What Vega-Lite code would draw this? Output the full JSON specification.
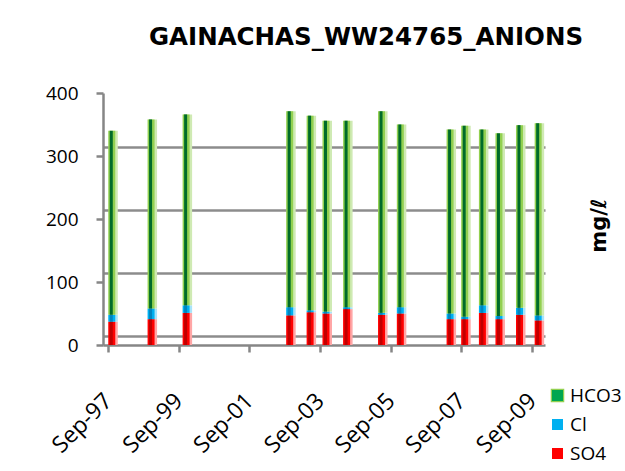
{
  "$schema": "https://vega.github.io/schema/vega-lite/v6.json",
  "autosize": {"type": "none"},
  "width": 442,
  "height": 252,
  "padding": {"left": 103, "top": 93, "right": 80, "bottom": 126},
  "background": "white",
  "config": {"view": {"stroke": null}, "font": "Open Sans"},
  "title": {"text": "GAINACHAS_WW24765_ANIONS", "font": "DejaVu Sans", "fontSize": 24.5, "fontWeight": "bold", "color": "black", "anchor": "middle", "dx": 42, "offset": 34},
  "data": {"values": [
    {"date": "1997-10-10", "ion": "SO4", "value": 37}, {"date": "1997-10-10", "ion": "Cl", "value": 11}, {"date": "1997-10-10", "ion": "HCO3", "value": 292},
    {"date": "1998-11-20", "ion": "SO4", "value": 41}, {"date": "1998-11-20", "ion": "Cl", "value": 17}, {"date": "1998-11-20", "ion": "HCO3", "value": 300},
    {"date": "1999-11-17", "ion": "SO4", "value": 51}, {"date": "1999-11-17", "ion": "Cl", "value": 12}, {"date": "1999-11-17", "ion": "HCO3", "value": 303},
    {"date": "2002-10-22", "ion": "SO4", "value": 47}, {"date": "2002-10-22", "ion": "Cl", "value": 13}, {"date": "2002-10-22", "ion": "HCO3", "value": 311},
    {"date": "2003-05-21", "ion": "SO4", "value": 52}, {"date": "2003-05-21", "ion": "Cl", "value": 3}, {"date": "2003-05-21", "ion": "HCO3", "value": 309},
    {"date": "2003-11-01", "ion": "SO4", "value": 50}, {"date": "2003-11-01", "ion": "Cl", "value": 3}, {"date": "2003-11-01", "ion": "HCO3", "value": 303},
    {"date": "2004-06-01", "ion": "SO4", "value": 57}, {"date": "2004-06-01", "ion": "Cl", "value": 3}, {"date": "2004-06-01", "ion": "HCO3", "value": 296},
    {"date": "2005-05-28", "ion": "SO4", "value": 48}, {"date": "2005-05-28", "ion": "Cl", "value": 3}, {"date": "2005-05-28", "ion": "HCO3", "value": 320},
    {"date": "2005-12-08", "ion": "SO4", "value": 50}, {"date": "2005-12-08", "ion": "Cl", "value": 10}, {"date": "2005-12-08", "ion": "HCO3", "value": 290},
    {"date": "2007-05-06", "ion": "SO4", "value": 41}, {"date": "2007-05-06", "ion": "Cl", "value": 9}, {"date": "2007-05-06", "ion": "HCO3", "value": 292},
    {"date": "2007-10-04", "ion": "SO4", "value": 41}, {"date": "2007-10-04", "ion": "Cl", "value": 4}, {"date": "2007-10-04", "ion": "HCO3", "value": 303},
    {"date": "2008-04-04", "ion": "SO4", "value": 51}, {"date": "2008-04-04", "ion": "Cl", "value": 12}, {"date": "2008-04-04", "ion": "HCO3", "value": 279},
    {"date": "2008-09-22", "ion": "SO4", "value": 41}, {"date": "2008-09-22", "ion": "Cl", "value": 5}, {"date": "2008-09-22", "ion": "HCO3", "value": 290},
    {"date": "2009-04-22", "ion": "SO4", "value": 48}, {"date": "2009-04-22", "ion": "Cl", "value": 11}, {"date": "2009-04-22", "ion": "HCO3", "value": 290},
    {"date": "2009-11-01", "ion": "SO4", "value": 39}, {"date": "2009-11-01", "ion": "Cl", "value": 8}, {"date": "2009-11-01", "ion": "HCO3", "value": 305}
  ]},
  "transform": [{"calculate": "indexof(['SO4', 'Cl', 'HCO3'], datum.ion)", "as": "stackOrder"}],
  "encoding": {
    "x": {
      "field": "date", "type": "temporal",
      "scale": {"domain": [{"year": 1997, "month": 9, "date": 1}, {"year": 2009, "month": 11, "date": 20}]},
      "axis": {
        "values": [{"year": 1997, "month": 9, "date": 1}, {"year": 1999, "month": 9, "date": 1}, {"year": 2001, "month": 9, "date": 1}, {"year": 2003, "month": 9, "date": 1}, {"year": 2005, "month": 9, "date": 1}, {"year": 2007, "month": 9, "date": 1}, {"year": 2009, "month": 9, "date": 1}],
        "format": "%b-%y", "labelAngle": -45, "labelAlign": "right", "labelBaseline": "middle",
        "labelFont": "Open Sans", "labelFontSize": 23, "labelColor": "black", "labelPadding": 45,
        "tickSize": 7, "tickColor": "#868686", "tickWidth": 2.5, "domainColor": "#868686", "domainWidth": 2.5,
        "grid": false, "title": null, "labelOverlap": false, "labelBound": false, "labelFlush": false
      }
    }
  },
  "layer": [
    {
      "mark": {"type": "point", "opacity": 0},
      "encoding": {
        "y": {"field": "value", "type": "quantitative", "scale": {"domain": [-15, 385], "nice": false, "zero": false},
          "axis": {"orient": "right", "grid": true, "gridColor": "#8c8c8c", "gridWidth": 2.5, "values": [0, 100, 200, 300, 400],
            "labels": false, "ticks": false, "domain": false, "title": "mg/ℓ", "titleFont": "DejaVu Sans", "titleFontSize": 21,
            "titleFontWeight": "bold", "titleAngle": 270, "titleX": 54, "titleY": 132, "titleAlign": "center", "titleBaseline": "middle", "titleColor": "black"}}
      }
    },
    {
      "mark": {"type": "bar", "size": 9, "xOffset": 1.5},
      "encoding": {
        "y": {"field": "value", "type": "quantitative", "scale": {"domain": [0, 400], "nice": false}, "axis": null},
        "order": {"field": "stackOrder", "type": "quantitative"},
        "color": {"field": "ion", "type": "nominal", "sort": ["HCO3", "Cl", "SO4"], "scale": {"domain": ["HCO3", "Cl", "SO4"], "range": ["#cfeab3", "#a8e4fa", "#ffa6a6"]}, "legend": null}
      }
    },
    {
      "mark": {"type": "bar", "size": 7},
      "encoding": {
        "y": {"field": "value", "type": "quantitative", "scale": {"domain": [0, 400], "nice": false},
          "axis": {"orient": "left", "grid": false, "values": [0, 100, 200, 300, 400], "domainColor": "#868686", "domainWidth": 2.5,
            "tickColor": "#868686", "tickWidth": 2.5, "tickSize": 7, "labelFont": "Open Sans", "labelFontSize": 19, "labelColor": "black", "labelPadding": 18, "title": null}},
        "order": {"field": "stackOrder", "type": "quantitative"},
        "color": {"field": "ion", "type": "nominal", "sort": ["HCO3", "Cl", "SO4"], "scale": {"domain": ["HCO3", "Cl", "SO4"], "range": ["#92D050", "#00B0F0", "#FF0000"]}, "legend": null}
      }
    },
    {
      "mark": {"type": "bar", "size": 3, "xOffset": -0.5},
      "encoding": {
        "y": {"field": "value", "type": "quantitative", "scale": {"domain": [0, 400], "nice": false}, "axis": null},
        "order": {"field": "stackOrder", "type": "quantitative"},
        "color": {"field": "ion", "type": "nominal", "sort": ["HCO3", "Cl", "SO4"], "scale": {"domain": ["HCO3", "Cl", "SO4"], "range": ["#006b2a", "#0085c0", "#c00000"]}, "legend": null}
      }
    },
    {
      "mark": {"type": "point", "filled": true, "opacity": 0, "shape": "square"},
      "encoding": {
        "y": {"field": "value", "type": "quantitative", "scale": {"domain": [0, 400], "nice": false}, "axis": null},
        "color": {"field": "ion", "type": "nominal", "sort": ["HCO3", "Cl", "SO4"], "scale": {"domain": ["HCO3", "Cl", "SO4"], "range": ["#00a651", "#00B0F0", "#FF0000"]},
          "legend": {"orient": "none", "legendX": 445, "legendY": 293, "title": null, "symbolType": "square", "symbolSize": 121, "symbolOpacity": 1,
            "symbolStrokeWidth": 0, "labelFont": "Open Sans", "labelFontSize": 19, "labelColor": "black", "rowPadding": 9, "labelOffset": 3, "padding": 0}}
      }
    },
    {
      "transform": [{"filter": "datum.ion === 'HCO3'"}],
      "mark": {"type": "point", "filled": false, "opacity": 0, "shape": "square"},
      "encoding": {
        "y": {"field": "value", "type": "quantitative", "scale": {"domain": [0, 400], "nice": false}, "axis": null},
        "stroke": {"field": "ion", "type": "nominal", "scale": {"domain": ["HCO3"], "range": ["#92D050"]},
          "legend": {"orient": "none", "legendX": 445, "legendY": 293, "title": null, "symbolType": "square", "symbolSize": 121, "symbolOpacity": 1,
            "symbolStrokeWidth": 2.5, "symbolFillColor": "transparent", "labelFont": "Open Sans", "labelFontSize": 19, "labelColor": "transparent", "rowPadding": 9, "labelOffset": 3, "padding": 0}}
      }
    }
  ],
  "resolve": {"scale": {"y": "independent", "color": "independent"}}
}
